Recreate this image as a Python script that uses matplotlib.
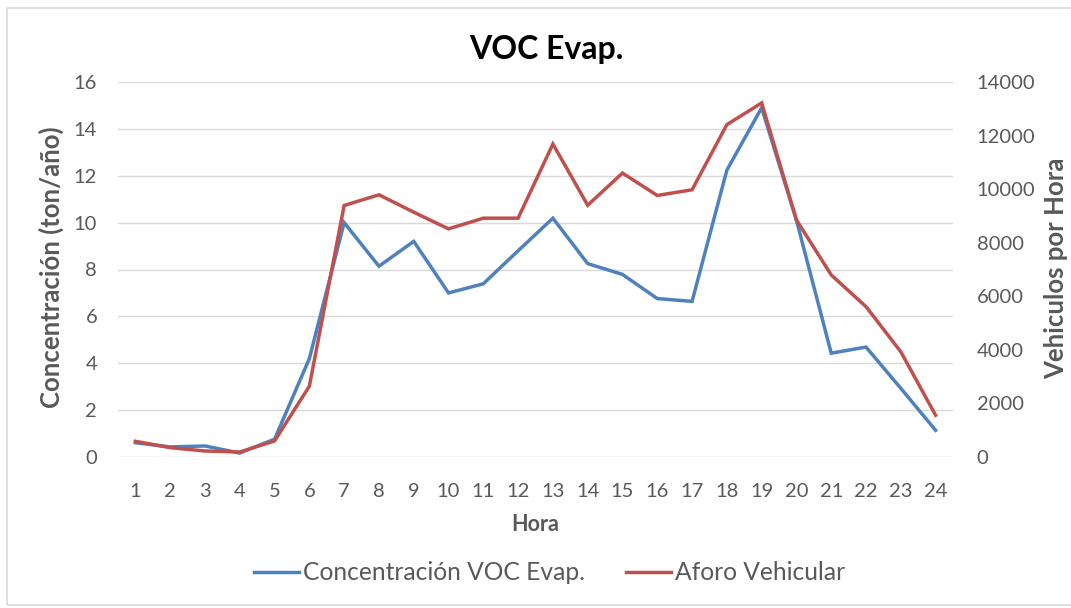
import matplotlib
matplotlib.use("Agg")
import matplotlib.pyplot as plt
from matplotlib.patches import Rectangle

plt.rcParams['font.family'] = ['Lato', 'DejaVu Sans']

horas = list(range(1, 25))
concentracion = [0.61, 0.43, 0.47, 0.17, 0.76, 4.2, 10.0, 8.14, 9.2, 7.0, 7.39, 8.8,
                 10.19, 8.25, 7.79, 6.76, 6.64, 12.24, 14.9, 10.1, 4.43, 4.69, 2.93, 1.14]
aforo = [586, 349, 224, 187, 599, 2644, 9390, 9790, 9140, 8517, 8916, 8916,
         11685, 9400, 10600, 9764, 9976, 12408, 13218, 8850, 6796, 5612, 3928, 1559]
yticks_left = [0, 2, 4, 6, 8, 10, 12, 14, 16]
yticks_right = [0, 2000, 4000, 6000, 8000, 10000, 12000, 14000]

gray = '#595959'
blue = '#4f81bd'
red = '#c0504d'
W, H = 1071, 608

fig = plt.figure(figsize=(W / 100, H / 100), dpi=100)
fig.patches.append(Rectangle((7 / W, 3 / H), 1.2, 1 - 11 / H, transform=fig.transFigure,
                             fill=False, edgecolor='#d9d9d9', linewidth=1.2))
ax = fig.add_axes([118 / W, 1 - 457 / H, 835 / W, 375 / H])
ax2 = ax.twinx()

l1, = ax.plot(horas, concentracion, color=blue, linewidth=2.5, solid_joinstyle='miter',
              label='Concentración VOC Evap.', zorder=3)
l2, = ax2.plot(horas, aforo, color=red, linewidth=2.5, solid_joinstyle='miter',
               label='Aforo Vehicular', zorder=3)

ax.set_xlim(0.5, 24.5)
ax.set_ylim(0, 16)
ax2.set_ylim(0, 14000)
ax.set_yticks(yticks_left)
ax2.set_yticks(yticks_right)
ax.set_xticks(horas)
ax.grid(axis='y', color='#d9d9d9', linewidth=1)
ax.set_axisbelow(True)
for a in (ax, ax2):
    for s in a.spines.values():
        s.set_visible(False)
    a.tick_params(length=0, labelsize=14.5, colors=gray)
ax.tick_params(axis='y', pad=15)
ax.tick_params(axis='x', pad=19)
ax2.tick_params(axis='y', pad=17)

ax.set_xlabel('Hora', fontsize=15.5, fontweight='bold', color=gray, labelpad=10)

fig.text(51 / W, 1 - 267 / H, 'Concentración (ton/año)', rotation=90, ha='center', va='center',
         fontsize=18.5, fontweight='bold', color=gray)
fig.text(1068 / W, 1 - 268 / H, 'Vehiculos por Hora', rotation=90, ha='right', va='center',
         fontsize=18.5, fontweight='bold', color=gray)
fig.text(546 / W, 1 - 59.5 / H, 'VOC Evap.', ha='center', va='baseline',
         fontsize=23, fontweight='bold', color='black')

leg = fig.legend(handles=[l1, l2], loc='center', bbox_to_anchor=(549.5 / W, 1 - 573 / H),
                 ncol=2, frameon=False, fontsize=17.7, handlelength=1.83, handletextpad=0.16,
                 columnspacing=1.7, borderaxespad=0, borderpad=0)
for t in leg.get_texts():
    t.set_color(gray)

fig.savefig('out.png', dpi=100)
